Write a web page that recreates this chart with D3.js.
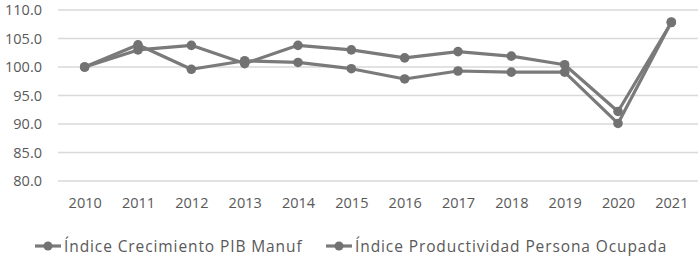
<!DOCTYPE html>
<html>
<head>
<meta charset="utf-8">
<script src="https://cdn.jsdelivr.net/npm/d3@7"></script>
<style>
  body { margin: 0; background: #fff; }
  text { font-family: "Open Sans", "DejaVu Sans", sans-serif; fill: #595959; }
</style>
</head>
<body>
<svg id="chart" width="700" height="257"></svg>
<script>
// chart values
var years = ['2010','2011','2012','2013','2014','2015','2016','2017','2018','2019','2020','2021'];
var pibManuf = [100, 103.0, 103.8, 100.6, 103.8, 103.0, 101.6, 102.7, 101.9, 100.4, 92.2, 107.8];
var productividad = [100, 103.9, 99.6, 101.1, 100.8, 99.7, 97.9, 99.3, 99.1, 99.1, 90.1, 107.9];
var seriesNames = ['Índice Crecimiento PIB Manuf', 'Índice Productividad Persona Ocupada'];
var yTicks = [80, 85, 90, 95, 100, 105, 110];

var svg = d3.select('#chart');
var margin = {top: 10, left: 58, right: 2};
var width = 700 - margin.left - margin.right;

var x = d3.scalePoint()
    .domain(years)
    .range([margin.left, margin.left + width])
    .padding(0.5);

var y = d3.scaleLinear()
    .domain([80, 110])
    .range([181, margin.top]);

// gridlines
svg.append('g')
    .selectAll('line')
    .data(yTicks)
    .join('line')
    .attr('x1', margin.left)
    .attr('x2', 698)
    .attr('y1', d => y(d))
    .attr('y2', d => y(d))
    .attr('stroke', '#d9d9d9')
    .attr('stroke-width', 1.3);

// y axis labels
var yAxis = d3.axisLeft(y).tickValues(yTicks).tickFormat(d3.format('.1f')).tickSize(0).tickPadding(0);
svg.append('g')
    .attr('transform', 'translate(42,0)')
    .call(yAxis)
    .call(g => g.select('.domain').remove())
    .selectAll('text')
    .style('font-size', '14.5px')
    .attr('fill', '#595959');

// x axis labels
var xAxis = d3.axisBottom(x).tickSize(0).tickPadding(0);
svg.append('g')
    .attr('transform', 'translate(0,198)')
    .call(xAxis)
    .call(g => g.select('.domain').remove())
    .selectAll('text')
    .style('font-size', '14.5px')
    .attr('fill', '#595959');

var line = d3.line()
    .x((d, i) => x(years[i]))
    .y(d => y(d));

[pibManuf, productividad].forEach(function(vals) {
    svg.append('path')
        .datum(vals)
        .attr('d', line)
        .attr('fill', 'none')
        .attr('stroke', '#7a7a7a')
        .attr('stroke-width', 3.2)
        .attr('stroke-linejoin', 'round');
    svg.append('g')
        .selectAll('circle')
        .data(vals)
        .join('circle')
        .attr('cx', (d, i) => x(years[i]))
        .attr('cy', d => y(d))
        .attr('r', 4.8)
        .attr('fill', '#727272');
});

// legend
var legend = [
    {name: seriesNames[0], x: 35},
    {name: seriesNames[1], x: 326}
];
var lg = svg.append('g').selectAll('g').data(legend).join('g')
    .attr('transform', d => `translate(${d.x},246)`);
lg.append('line')
    .attr('x1', 0).attr('x2', 26)
    .attr('stroke', '#7a7a7a').attr('stroke-width', 3.2);
lg.append('circle')
    .attr('cx', 13).attr('r', 4.5).attr('fill', '#727272');
lg.append('text')
    .attr('x', 29).attr('y', 6)
    .style('font-size', '15.5px')
    .style('letter-spacing', '0.9px')
    .text(d => d.name);
</script>
</body>
</html>
